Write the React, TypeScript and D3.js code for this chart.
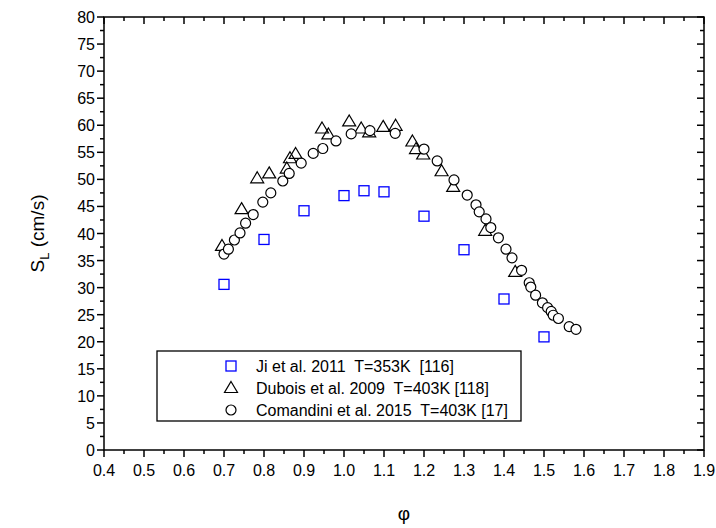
import * as d3 from "d3";
import { useEffect, useRef } from "react";

// Ji et al. 2011, T=353K
const jiPhi = [0.7, 0.8, 0.9, 1.0, 1.05, 1.1, 1.2, 1.3, 1.4, 1.5];
const jiSL = [30.6, 38.9, 44.2, 47.0, 47.9, 47.7, 43.2, 37.0, 27.9, 20.9];

// Dubois et al. 2009, T=403K
const duboisPhi = [0.695, 0.744, 0.783, 0.813, 0.857, 0.865, 0.879, 0.945, 0.961, 1.013, 1.043, 1.063, 1.098, 1.129, 1.171, 1.18, 1.198, 1.244, 1.273, 1.353, 1.428];
const duboisSL = [37.7, 44.5, 50.2, 51.1, 52.0, 53.9, 54.7, 59.4, 58.3, 60.7, 59.4, 58.7, 59.7, 59.9, 57.0, 55.6, 54.6, 51.5, 48.6, 40.5, 32.9];

// Comandini et al. 2015, T=403K
const comandiniPhi = [0.7, 0.711, 0.726, 0.74, 0.754, 0.773, 0.797, 0.817, 0.847, 0.863, 0.893, 0.923, 0.947, 0.98, 1.018, 1.065, 1.128, 1.2, 1.233, 1.275, 1.308, 1.33, 1.338, 1.355, 1.367, 1.386, 1.405, 1.42, 1.444, 1.463, 1.467, 1.479, 1.496, 1.509, 1.518, 1.523, 1.536, 1.563, 1.58];
const comandiniSL = [36.2, 37.1, 38.8, 40.1, 41.9, 43.5, 45.8, 47.5, 49.7, 51.1, 53.0, 54.8, 55.7, 57.1, 58.4, 59.0, 58.5, 55.6, 53.4, 49.9, 47.1, 45.3, 44.0, 42.7, 41.1, 39.2, 37.1, 35.5, 33.2, 30.9, 30.1, 28.6, 27.2, 26.3, 25.6, 24.9, 24.3, 22.8, 22.3];

const legendLabels = [
    "Ji et al. 2011  T=353K  [116]",
    "Dubois et al. 2009  T=403K [118]",
    "Comandini et al. 2015  T=403K [17]",
];

const xMajor = d3.range(4, 20).map(d => d / 10);
const yMajor = d3.range(0, 81, 5);

export default function App() {
    const svgRef = useRef<SVGSVGElement | null>(null);

    useEffect(() => {
        if (!svgRef.current) return;
        const width = 716, height = 528;
        const margin = { top: 17, right: 12, bottom: 78, left: 104 };
        const font = "'Liberation Sans', Arial, sans-serif";

        const svg = d3.select(svgRef.current);
        svg.selectAll("*").remove();

        const x = d3.scaleLinear().domain([0.4, 1.9]).range([margin.left, width - margin.right]);
        const y = d3.scaleLinear().domain([0, 80]).range([height - margin.bottom, margin.top]);

        svg.append("rect").attr("width", width).attr("height", height).attr("fill", "#fff");

        const x0 = x(0.4), x1 = x(1.9), y0 = y(0), y1 = y(80);
        const axis = svg.append("g").attr("stroke", "#000").attr("stroke-width", 1.5);

        // frame
        axis.append("rect")
            .attr("x", x0).attr("y", y1)
            .attr("width", x1 - x0).attr("height", y0 - y1)
            .attr("fill", "none");

        // x ticks: bottom outward, top inward
        const xMinor = d3.range(45, 190, 10).map(d => d / 100);
        xMajor.forEach(v => {
            axis.append("line").attr("x1", x(v)).attr("x2", x(v)).attr("y1", y0).attr("y2", y0 + 7);
            axis.append("line").attr("x1", x(v)).attr("x2", x(v)).attr("y1", y1).attr("y2", y1 + 7);
        });
        xMinor.forEach(v => {
            axis.append("line").attr("x1", x(v)).attr("x2", x(v)).attr("y1", y0).attr("y2", y0 + 4);
            axis.append("line").attr("x1", x(v)).attr("x2", x(v)).attr("y1", y1).attr("y2", y1 + 4);
        });

        // y ticks: left outward, right inward
        const yMinor = d3.range(2.5, 80, 5);
        yMajor.forEach(v => {
            axis.append("line").attr("x1", x0 - 7).attr("x2", x0).attr("y1", y(v)).attr("y2", y(v));
            axis.append("line").attr("x1", x1 - 7).attr("x2", x1).attr("y1", y(v)).attr("y2", y(v));
        });
        yMinor.forEach(v => {
            axis.append("line").attr("x1", x0 - 4).attr("x2", x0).attr("y1", y(v)).attr("y2", y(v));
            axis.append("line").attr("x1", x1 - 4).attr("x2", x1).attr("y1", y(v)).attr("y2", y(v));
        });

        // tick labels
        svg.append("g").selectAll("text").data(xMajor).enter().append("text")
            .attr("x", d => x(d)).attr("y", y0 + 26)
            .attr("text-anchor", "middle")
            .attr("font-family", font).attr("font-size", 16)
            .text(d => d.toFixed(1));

        svg.append("g").selectAll("text").data(yMajor).enter().append("text")
            .attr("x", x0 - 9).attr("y", d => y(d) + 6)
            .attr("text-anchor", "end")
            .attr("font-family", font).attr("font-size", 16)
            .text(d => d);

        // axis titles
        svg.append("text")
            .attr("x", (x0 + x1) / 2).attr("y", 520)
            .attr("text-anchor", "middle")
            .attr("font-family", font).attr("font-size", 19)
            .text("φ");

        const yt = svg.append("text")
            .attr("transform", `translate(44,${(y0 + y1) / 2}) rotate(-90)`)
            .attr("text-anchor", "middle")
            .attr("font-family", font).attr("font-size", 19);
        yt.append("tspan").text("S");
        yt.append("tspan").attr("font-size", 13).attr("dy", 5).text("L");
        yt.append("tspan").attr("dy", -5).text(" (cm/s)");

        // marker painters
        const square = (g: any, cx: number, cy: number) =>
            g.append("rect").attr("x", cx - 5).attr("y", cy - 5).attr("width", 10).attr("height", 10)
                .attr("fill", "none").attr("stroke", "#0000ff").attr("stroke-width", 1.3);
        const triangle = (g: any, cx: number, cy: number) =>
            g.append("path").attr("d", `M${cx},${cy - 6.5}L${cx + 6.5},${cy + 4.5}L${cx - 6.5},${cy + 4.5}Z`)
                .attr("fill", "none").attr("stroke", "#000").attr("stroke-width", 1.2);
        const circle = (g: any, cx: number, cy: number) =>
            g.append("circle").attr("cx", cx).attr("cy", cy).attr("r", 5)
                .attr("fill", "#fff").attr("stroke", "#000").attr("stroke-width", 1.2);

        const marks = svg.append("g");
        jiPhi.forEach((p, i) => square(marks, x(p), y(jiSL[i])));
        duboisPhi.forEach((p, i) => triangle(marks, x(p), y(duboisSL[i])));
        comandiniPhi.forEach((p, i) => circle(marks, x(p), y(comandiniSL[i])));

        // legend
        const leg = svg.append("g");
        leg.append("rect")
            .attr("x", 157).attr("y", 351).attr("width", 364).attr("height", 70)
            .attr("fill", "#fff").attr("stroke", "#000").attr("stroke-width", 1.3);
        const painters = [square, triangle, circle];
        legendLabels.forEach((label, i) => {
            const ry = 366 + i * 22;
            painters[i](leg, 231, ry);
            leg.append("text")
                .attr("x", 256).attr("y", ry + 6)
                .attr("font-family", font).attr("font-size", 16)
                .style("white-space", "pre")
                .text(label);
        });
    }, []);

    return <svg ref={svgRef} width={716} height={528} style={{ position: "absolute", left: 0, top: 0 }} />;
}
